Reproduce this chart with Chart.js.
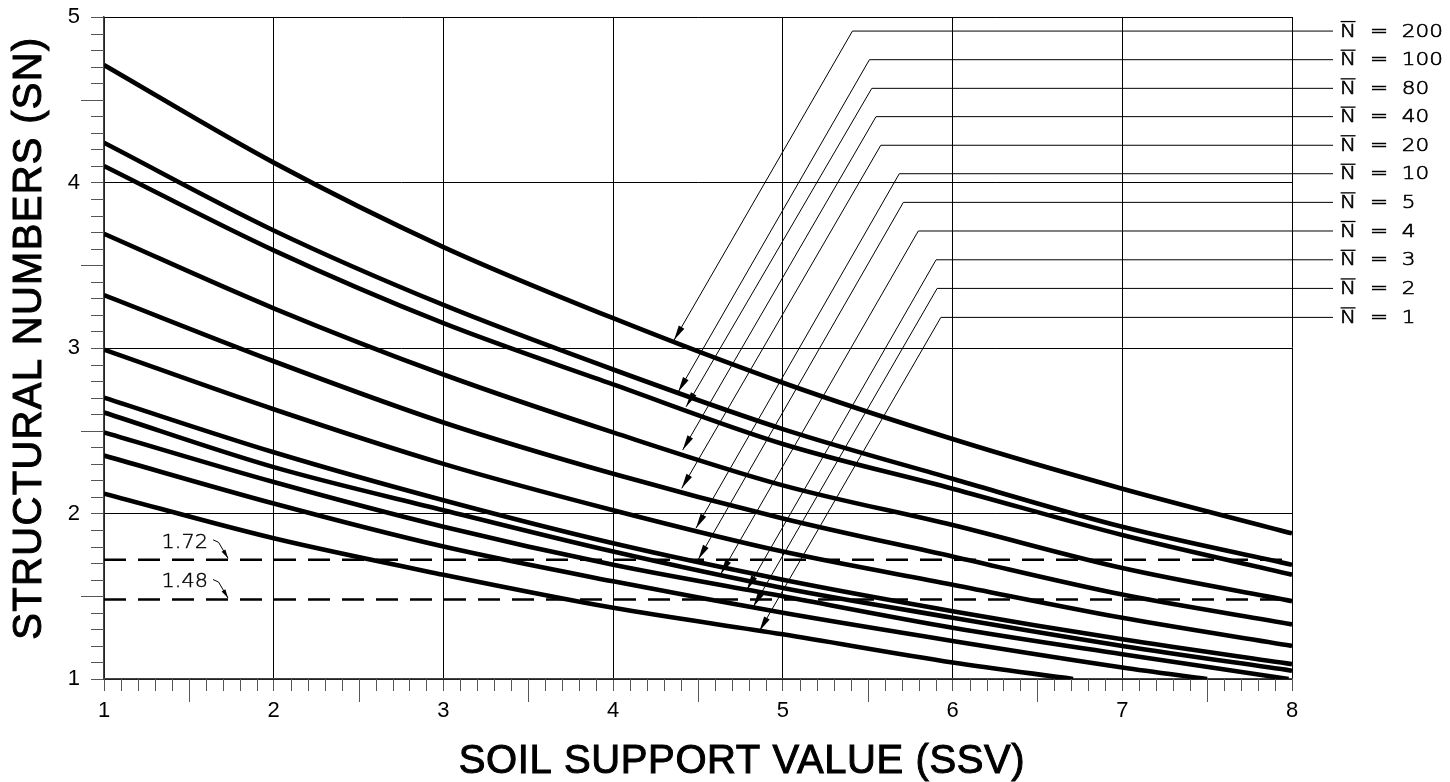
<!DOCTYPE html>
<html>
<head>
<meta charset="utf-8">
<script src="https://cdn.jsdelivr.net/npm/chart.js@4.4.1/dist/chart.umd.min.js"></script>
<style>
  html, body { margin: 0; padding: 0; background: #fff; }
  #wrap { width: 1450px; height: 782px; position: relative; }
</style>
</head>
<body>
<div id="wrap"><canvas id="snChart"></canvas></div>
<script>
// soil support value at the major grid lines
const ssv = [1, 2, 3, 4, 5, 6, 7, 8];

// structural number curves, one per N-bar
const sn200 = [4.71, 4.12, 3.61, 3.18, 2.79, 2.45, 2.15, 1.88];
const sn100 = [4.24, 3.71, 3.26, 2.87, 2.51, 2.21, 1.92, 1.69];
const sn80  = [4.10, 3.59, 3.15, 2.78, 2.42, 2.15, 1.87, 1.63];
const sn40  = [3.69, 3.24, 2.84, 2.49, 2.17, 1.93, 1.67, 1.47];
const sn20  = [3.32, 2.92, 2.55, 2.24, 1.97, 1.74, 1.51, 1.33];
const sn10  = [2.99, 2.63, 2.30, 2.02, 1.77, 1.57, 1.37, 1.20];
const sn5   = [2.70, 2.37, 2.08, 1.82, 1.60, 1.41, 1.24, 1.09];
const sn4   = [2.61, 2.28, 2.02, 1.77, 1.55, 1.37, 1.20, 1.05];
const sn3   = [2.49, 2.19, 1.92, 1.69, 1.50, 1.31, 1.15, 1.00];
const sn2   = [2.35, 2.06, 1.80, 1.59, 1.40, 1.23, 1.07, 1.00];
const sn1   = [2.12, 1.85, 1.63, 1.43, 1.27, 1.10, 1.00];
// ssv where the last point of each curve sits (lower curves run out at SN = 1)
const lastSsv = [8, 8, 8, 8, 8, 8, 8, 8, 7.98, 7.5, 6.71];

const nBar = ['200', '100', '80', '40', '20', '10', '5', '4', '3', '2', '1'];
const snCurves = [sn200, sn100, sn80, sn40, sn20, sn10, sn5, sn4, sn3, sn2, sn1];

// dashed design lines
const designSn = [1.72, 1.48];

const xTicks = ['1', '2', '3', '4', '5', '6', '7', '8'];
const yTicks = ['1', '2', '3', '4', '5'];

// leader lines: label row height, elbow, arrow tip (all in chart units)
const leaderY  = [4.915, 4.742, 4.569, 4.398, 4.225, 4.053, 3.880, 3.707, 3.533, 3.360, 3.185];
const elbowX   = [5.41, 5.51, 5.524, 5.549, 5.577, 5.686, 5.71, 5.798, 5.903, 5.909, 5.931];
const tipX     = [4.359, 4.384, 4.43, 4.41, 4.404, 4.488, 4.502, 4.634, 4.787, 4.826, 4.862];
const tipY     = [3.048, 2.736, 2.645, 2.384, 2.152, 1.911, 1.723, 1.634, 1.538, 1.437, 1.290];

const datasets = [];
designSn.forEach(v => {
  datasets.push({
    data: [{x: 1, y: v}, {x: 8, y: v}],
    borderColor: '#000',
    borderWidth: 2.5,
    borderDash: [22, 12],
    pointRadius: 0
  });
});
snCurves.forEach((vals, i) => {
  const pts = vals.map((v, k) => ({x: k === vals.length - 1 ? lastSsv[i] : ssv[k], y: v}));
  datasets.push({
    label: 'N = ' + nBar[i],
    data: pts,
    borderColor: '#000',
    borderWidth: 4.6,
    pointRadius: 0,
    cubicInterpolationMode: 'monotone'
  });
});

function seg(ctx, x0, y0, x1, y1) {
  ctx.beginPath();
  ctx.moveTo(x0, y0);
  ctx.lineTo(x1, y1);
  ctx.stroke();
}

function arrowHead(ctx, x0, y0, x1, y1, len, half) {
  const a = Math.atan2(y1 - y0, x1 - x0);
  const c = Math.cos(a), s = Math.sin(a);
  ctx.beginPath();
  ctx.moveTo(x1, y1);
  ctx.lineTo(x1 - len * c + half * s, y1 - len * s - half * c);
  ctx.lineTo(x1 - len * c - half * s, y1 - len * s + half * c);
  ctx.closePath();
  ctx.fill();
}

// thin text with a light outline so it reads like the plotter font
function penText(ctx, str, x, y, w) {
  ctx.fillText(str, x, y);
  ctx.lineWidth = w;
  ctx.strokeText(str, x, y);
}

const sketch = {
  id: 'sketch',
  afterDatasetsDraw(chart) {
    const {ctx, chartArea: area, scales: {x, y}} = chart;
    ctx.save();

    // minor ticks
    ctx.strokeStyle = '#555';
    ctx.lineWidth = 1;
    for (let i = 11; i < 80; i++) {
      if (i % 10 === 0) continue;
      const px = Math.round(x.getPixelForValue(i / 10)) + 0.5;
      seg(ctx, px, area.bottom, px, area.bottom + (i % 5 === 0 ? 23 : 12));
    }
    for (let i = 11; i < 50; i++) {
      if (i % 10 === 0) continue;
      const py = Math.round(y.getPixelForValue(i / 10)) + 0.5;
      seg(ctx, area.left - (i % 5 === 0 ? 23 : 13), py, area.left, py);
    }

    // leader lines with arrows
    ctx.strokeStyle = '#000';
    ctx.fillStyle = '#000';
    ctx.lineWidth = 1;
    const lineEnd = area.right + 41;
    nBar.forEach((n, i) => {
      const ly = y.getPixelForValue(leaderY[i]);
      const ex = x.getPixelForValue(elbowX[i]);
      const tx = x.getPixelForValue(tipX[i]);
      const ty = y.getPixelForValue(tipY[i]);
      ctx.lineWidth = 1;
      ctx.beginPath();
      ctx.moveTo(lineEnd, ly);
      ctx.lineTo(ex, ly);
      ctx.lineTo(tx, ty);
      ctx.stroke();
      arrowHead(ctx, ex, ly, tx, ty, 15, 3.2);

      ctx.save();
      ctx.translate(area.right + 48, ly);
      ctx.scale(1.2, 1);
      ctx.font = '200 18px "DejaVu Sans"';
      ctx.textBaseline = 'middle';
      ctx.textAlign = 'left';
      penText(ctx, 'N', 0, 1, 0.6);
      const nw = ctx.measureText('N').width;
      ctx.lineWidth = 1.3;
      seg(ctx, 0.5, -9.5, nw - 0.5, -9.5);
      penText(ctx, '=', 25, 1, 0.6);
      penText(ctx, n, 51.5, 1, 0.6);
      ctx.restore();
    });

    // design line callouts
    designSn.forEach(v => {
      const ly = y.getPixelForValue(v);
      const tx = x.getPixelForValue(1.731);
      ctx.lineWidth = 1;
      ctx.beginPath();
      ctx.moveTo(tx - 15, ly - 20);
      ctx.lineTo(tx - 9.5, ly - 17.5);
      ctx.lineTo(tx, ly - 1.5);
      ctx.stroke();
      arrowHead(ctx, tx - 9.5, ly - 17.5, tx, ly - 1.5, 9, 2.2);
      ctx.save();
      ctx.translate(tx - 20, ly - 17);
      ctx.scale(1.1, 1);
      ctx.font = '200 19px "DejaVu Sans"';
      ctx.textAlign = 'right';
      ctx.textBaseline = 'middle';
      penText(ctx, v.toFixed(2), 0, 0, 0.4);
      ctx.restore();
    });

    // axis titles
    ctx.fillStyle = '#000';
    ctx.strokeStyle = '#000';
    ctx.font = '40px "Liberation Sans"';
    ctx.letterSpacing = '0.6px';
    ctx.textAlign = 'center';
    ctx.textBaseline = 'middle';
    penText(ctx, 'SOIL SUPPORT VALUE (SSV)', area.left + 638, 762, 1);
    ctx.save();
    ctx.letterSpacing = '1.3px';
    ctx.translate(30, area.top + 321);
    ctx.rotate(-Math.PI / 2);
    penText(ctx, 'STRUCTURAL NUMBERS (SN)', 0, 0, 1);
    ctx.restore();

    ctx.restore();
  }
};

new Chart(document.getElementById('snChart'), {
  type: 'line',
  data: {datasets},
  plugins: [sketch],
  options: {
    responsive: true,
    maintainAspectRatio: false,
    animation: false,
    layout: {padding: {left: 0, right: 158, top: 17, bottom: 0}},
    plugins: {legend: {display: false}, tooltip: {enabled: false}},
    scales: {
      x: {
        type: 'linear',
        min: 1,
        max: 8,
        afterFit: s => { s.height = 103; s.paddingLeft = 0; s.paddingRight = 0; },
        afterBuildTicks: s => { s.ticks = xTicks.map(t => ({value: Number(t)})); },
        ticks: {
          color: '#000',
          padding: 7,
          font: {family: '"Liberation Sans"', size: 22},
          callback: v => xTicks[v - 1]
        },
        grid: {color: '#000', lineWidth: 1, tickLength: 12, tickColor: '#555'},
        border: {display: true, color: '#444', width: 1.5}
      },
      y: {
        min: 1,
        max: 5,
        afterFit: s => { s.width = 104; s.paddingTop = 0; s.paddingBottom = 0; },
        afterBuildTicks: s => { s.ticks = yTicks.map(t => ({value: Number(t)})); },
        ticks: {
          color: '#000',
          padding: 11,
          font: {family: '"Liberation Sans"', size: 22},
          callback: v => yTicks[v - 1]
        },
        grid: {color: '#000', lineWidth: 1, tickLength: 13, tickColor: '#555'},
        border: {display: true, color: '#444', width: 1.5}
      }
    }
  }
});
</script>
</body>
</html>
